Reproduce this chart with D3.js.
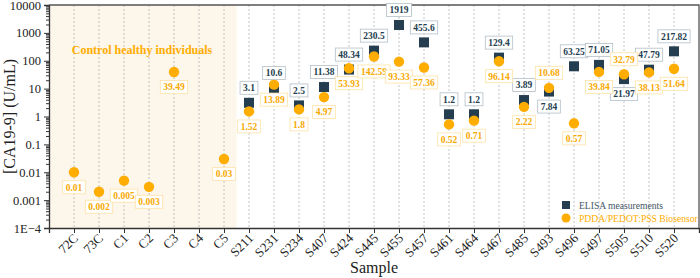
<!DOCTYPE html>
<html>
<head>
<meta charset="utf-8">
<script src="https://cdn.jsdelivr.net/npm/d3@7"></script>
<style>
  body { margin: 0; background: #fff; }
  svg { display: block; font-family: "Liberation Serif", "Times New Roman", serif; }
</style>
</head>
<body>
<div id="chart"></div>
<script>
// samples along the x axis
var samples = ["72C", "73C", "C1", "C2", "C3", "C4", "C5",
  "S211", "S231", "S234", "S407", "S424", "S445", "S455", "S457", "S461",
  "S464", "S467", "S485", "S493", "S496", "S497", "S505", "S510", "S520"];
var controls = ["72C", "73C", "C1", "C2", "C3", "C4", "C5"];

// ELISA measurements (U/mL)
var elisaSamples = ["S211", "S231", "S234", "S407", "S424", "S445", "S455", "S457", "S461",
  "S464", "S467", "S485", "S493", "S496", "S497", "S505", "S510", "S520"];
var elisaValues = [3.1, 10.6, 2.5, 11.38, 48.34, 230.5, 1919, 455.6, 1.2,
  1.2, 129.4, 3.89, 7.84, 63.25, 71.05, 21.97, 47.79, 217.82];
var elisaText = ["3.1", "10.6", "2.5", "11.38", "48.34", "230.5", "1919", "455.6", "1.2",
  "1.2", "129.4", "3.89", "7.84", "63.25", "71.05", "21.97", "47.79", "217.82"];

// PDDA/PEDOT:PSS biosensor (U/mL)
var bioSamples = ["72C", "73C", "C1", "C2", "C3", "C5",
  "S211", "S231", "S234", "S407", "S424", "S445", "S455", "S457", "S461",
  "S464", "S467", "S485", "S493", "S496", "S497", "S505", "S510", "S520"];
var bioValues = [0.01, 0.002, 0.005, 0.003, 39.49, 0.03,
  1.52, 13.89, 1.8, 4.97, 53.93, 142.59, 93.33, 57.36, 0.52,
  0.71, 96.14, 2.22, 10.68, 0.57, 39.84, 32.79, 38.13, 51.64];
var bioText = ["0.01", "0.002", "0.005", "0.003", "39.49", "0.03",
  "1.52", "13.89", "1.8", "4.97", "53.93", "142.59", "93.33", "57.36", "0.52",
  "0.71", "96.14", "2.22", "10.68", "0.57", "39.84", "32.79", "38.13", "51.64"];

// samples where the two labels swap sides
var flipped = ["S493", "S505"];

var yTicks = [1e-4, 1e-3, 1e-2, 0.1, 1, 10, 100, 1000, 10000];
var yTickText = ["1E\u22124", "0.001", "0.01", "0.1", "1", "10", "100", "1000", "10000"];

var navy = "#243e50", orange = "#ffad00";

var margin = { top: 5, right: 1, bottom: 50, left: 49 },
    W = 700, H = 278,
    width = W - margin.left - margin.right,
    height = H - margin.top - margin.bottom;

var svg = d3.select("#chart").append("svg")
  .attr("width", W).attr("height", H);
var g = svg.append("g")
  .attr("transform", "translate(" + margin.left + "," + margin.top + ")");

var x = d3.scalePoint().domain(samples).range([0, width]).padding(1);
var y = d3.scaleLog().domain([1e-4, 1e4]).range([height, 0]);

// shaded control region
var ctrlEnd = (x(controls[controls.length - 1]) + x("S211")) / 2;
g.append("rect")
  .attr("x", 0).attr("y", 0)
  .attr("width", ctrlEnd).attr("height", height)
  .attr("fill", "#fdf6ea");

// vertical grid
g.selectAll(".grid").data(samples).enter().append("line")
  .attr("class", "grid")
  .attr("x1", d => x(d)).attr("x2", d => x(d))
  .attr("y1", 0).attr("y2", height)
  .attr("stroke", "#b5b5b5").attr("stroke-width", 0.8)
  .attr("stroke-dasharray", "2,2");

g.append("text")
  .attr("x", (x("72C") + x("C5")) / 2 - 7).attr("y", 49)
  .attr("text-anchor", "middle")
  .attr("font-size", 12).attr("font-weight", "bold")
  .attr("fill", orange)
  .text("Control healthy individuals");

// axes
var minor = [];
for (var e = -4; e < 4; e++) {
  for (var k = 2; k < 10; k++) minor.push(k * Math.pow(10, e));
}
var yAxis = g.append("g")
  .call(d3.axisLeft(y).tickValues(yTicks).tickFormat((d, i) => yTickText[i]).tickSize(5).tickPadding(3));
g.append("g")
  .call(d3.axisLeft(y).tickValues(minor).tickFormat("").tickSize(3))
  .select(".domain").remove();
var xAxis = g.append("g")
  .attr("transform", "translate(0," + height + ")")
  .call(d3.axisBottom(x).tickSize(5).tickFormat(""));

g.selectAll(".xlab").data(samples).enter().append("text")
  .attr("class", "xlab")
  .attr("transform", d => "translate(" + (x(d) + 5) + "," + (height + 11) + ") rotate(-45)")
  .attr("text-anchor", "end")
  .attr("font-size", 13)
  .attr("fill", "#222")
  .text(d => d);

svg.selectAll(".domain").attr("stroke", "#333").attr("stroke-width", 1.3);
svg.selectAll(".tick line").attr("stroke", "#333");
yAxis.selectAll("text").attr("font-size", 12.5).attr("fill", "#222")
  .attr("font-family", "Liberation Serif, serif");

// frame top and right
g.append("path")
  .attr("d", "M0,0H" + width + "V" + height)
  .attr("fill", "none").attr("stroke", "#555").attr("stroke-width", 1.3);

// axis titles
svg.append("text")
  .attr("x", margin.left + width / 2).attr("y", 273)
  .attr("text-anchor", "middle").attr("font-size", 16).attr("fill", "#222")
  .text("Sample");
svg.append("text")
  .attr("transform", "translate(15," + (margin.top + height / 2) + ") rotate(-90)")
  .attr("text-anchor", "middle").attr("font-size", 16).attr("fill", "#222")
  .text("[CA19-9] (U/mL)");

// data
var elisa = elisaSamples.map((s, i) => ({ s: s, v: elisaValues[i], t: elisaText[i] }));
var bio = bioSamples.map((s, i) => ({ s: s, v: bioValues[i], t: bioText[i] }));

g.selectAll(".sq").data(elisa).enter().append("rect")
  .attr("class", "sq")
  .attr("x", d => x(d.s) - 5).attr("y", d => y(d.v) - 5)
  .attr("width", 10).attr("height", 10)
  .attr("fill", navy);

g.selectAll(".dot").data(bio).enter().append("circle")
  .attr("class", "dot")
  .attr("cx", d => x(d.s)).attr("cy", d => y(d.v))
  .attr("r", 5.2)
  .attr("fill", orange);

function addLabels(data, above, color, border) {
  var lab = g.selectAll(null).data(data).enter().append("g")
    .attr("transform", function (d) {
      var up = flipped.indexOf(d.s) >= 0 ? !above : above;
      return "translate(" + x(d.s) + "," + (y(d.v) + (up ? -15 : 15)) + ")";
    });
  lab.append("rect")
    .attr("fill", "#fff").attr("stroke", border).attr("stroke-width", 0.8)
    .attr("y", -6.5).attr("height", 13);
  lab.append("text")
    .attr("text-anchor", "middle").attr("dy", "0.35em")
    .attr("font-size", 9.5).attr("font-weight", "bold")
    .attr("fill", color)
    .text(d => d.t);
  lab.each(function () {
    var w = d3.select(this).select("text").node().getComputedTextLength() + 6;
    d3.select(this).select("rect").attr("x", -w / 2).attr("width", w);
  });
}
addLabels(elisa, true, navy, "#b3bfc7");
addLabels(bio, false, "#f7a900", "#fde2a6");

// legend
var leg = g.append("g").attr("transform", "translate(" + (x("S496") - 8) + ",200)");
leg.append("rect").attr("x", -4).attr("y", -4).attr("width", 8).attr("height", 8).attr("fill", navy);
leg.append("text").attr("x", 13).attr("y", 3.5).attr("font-size", 9.6).attr("fill", "#3f5666")
  .text("ELISA measurements");
leg.append("circle").attr("cx", 0).attr("cy", 13).attr("r", 4.5).attr("fill", orange);
leg.append("text").attr("x", 13).attr("y", 16.5).attr("font-size", 9.6).attr("fill", orange)
  .text("PDDA/PEDOT:PSS Biosensor");
</script>
</body>
</html>
